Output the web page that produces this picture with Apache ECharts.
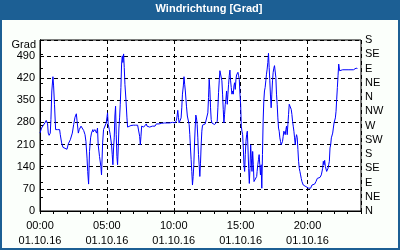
<!DOCTYPE html>
<html><head><meta charset="utf-8">
<script src="https://cdn.jsdelivr.net/npm/echarts@6/dist/echarts.min.js"></script>
<style>html,body{margin:0;padding:0;background:#fff}#c{width:400px;height:250px}</style>
</head><body><div id="c"></div>
<script>
const titleText = 'Windrichtung [Grad]';
const yName = 'Grad';
const dateLabel = '01.10.16';
const dirLabels = ['N','NE','E','SE','S','SW','W','NW','N','NE','E','SE','S'];
// time in minutes since 00:00
const times = [0,7,13,22,28,34,37,41,46,49,53,58,61,65,70,79,88,91,97,103,109,121,127,136,145,151,157,163,166,172,176,184,190,196,202,206,211,214,218,222,227,231,237,
239,246,254,258,261,267,273,276,281,285,291,297,300,303,306,311,315,321,324,327,330,333,336,339,342,345,348,351,354,357,360,363,366,369,372,375,378,381,386,390,393,399,408,419,429,438,444,447,450,453,456,461,465,471,477,
480,486,492,498,504,510,516,522,528,534,540,546,552,558,564,570,576,582,588,594,600,606,612,615,618,621,624,628,633,636,639,643,646,649,652,657,661,666,669,672,675,678,681,684,687,690,693,696,699,702,705,708,711,714,
717,720,723,726,729,735,741,747,753,756,759,762,765,768,771,777,783,789,792,795,798,801,804,807,810,813,816,819,822,825,828,831,834,837,840,843,846,849,852,855,858,861,864,867,870,873,876,879,882,885,888,891,894,897,900,903,906,909,912,915,918,921,924,927,930,933,936,939,942,945,948,951,954,957,960,963,966,
972,974,977,980,983,986,989,992,995,998,1001,1004,1007,1010,1013,1016,1019,1022,1025,1028,1031,1034,1037,1040,1043,1046,1049,1052,1055,1058,1061,1064,1067,1070,1073,1076,1079,1082,1085,1088,1091,1094,1097,1100,1103,1106,1109,1112,1115,1118,1121,1124,1127,1130,1133,1136,1139,1142,1145,1148,1151,1154,1157,1160,1163,1166,1169,1172,1175,1181,1187,1193,1199,1205,
1208,1214,1220,1226,1232,1238,1244,1250,1256,1262,1268,1271,1274,1277,1280,1286,1289,1292,1295,1298,1301,1304,1307,1310,1313,1316,1319,1322,1325,1328,1331,1334,1337,1340,1342,1344,1346,1349,1358,1382,1406,1412,1418,1424];
const values = [246,262,268,278,286,275,246,239,246,289,379,424,395,337,257,257,257,241,215,201,195,195,212,225,246,273,296,307,286,246,257,268,271,254,241,220,167,125,85,188,231,246,257,
250,257,246,262,209,172,141,114,215,257,262,278,294,310,273,257,241,209,178,146,199,231,300,331,241,172,146,199,262,294,337,390,464,490,469,496,453,400,347,294,265,268,270,271,271,271,268,236,209,236,268,271,265,271,275,
268,271,265,260,268,273,268,275,271,275,273,277,275,278,277,278,283,278,278,280,277,278,286,300,318,296,278,278,294,326,369,395,424,400,379,331,300,303,273,241,199,162,125,82,109,146,209,262,303,294,273,231,178,146,
109,151,209,252,271,275,275,278,310,358,416,384,326,289,278,275,273,271,271,283,326,374,411,443,446,448,411,369,321,278,305,337,353,379,337,369,400,427,445,411,390,369,379,369,395,405,384,416,430,432,438,427,416,369,337,268,252,241,199,146,125,178,220,241,252,199,135,87,135,209,167,125,188,146,93,98,93,
109,125,146,162,178,146,114,146,72,178,284,347,379,390,411,432,448,469,498,453,411,363,326,369,411,438,451,459,462,422,369,337,294,262,252,231,220,209,204,220,236,252,246,241,257,268,241,273,305,337,339,331,321,305,283,268,252,231,209,231,241,231,194,157,135,125,114,103,93,82,82,77,75,72,
66,72,82,87,85,93,103,98,106,114,135,157,146,160,141,125,130,135,146,157,199,209,231,236,246,262,278,284,294,315,353,390,427,464,467,443,449,445,446,446,446,448,451,450];

const FONT = 'Liberation Sans';
const BLUE = '#1c5f94';
const data = times.map((t, i) => [t, values[i]]);
const pad = n => (n < 10 ? '0' : '') + n;

const chart = echarts.init(document.getElementById('c'), null, {renderer: 'canvas'});
chart.setOption({
  animation: false,
  backgroundColor: '#fbfffb',
  title: {
    text: titleText, left: 209, top: 3, padding: 0, textAlign: 'center',
    textStyle: {color: '#fff', fontFamily: FONT, fontSize: 11, fontWeight: 'bold'}
  },
  graphic: [
    {type: 'rect', z: -10, shape: {x: 0, y: 0, width: 400, height: 20}, style: {fill: BLUE}},
    {type: 'rect', z: 100, shape: {x: 1, y: 1, width: 398, height: 248}, style: {fill: 'none', stroke: BLUE, lineWidth: 2}}
  ],
  grid: {left: 40, right: 39, top: 40, bottom: 39, show: true, backgroundColor: '#fff', borderColor: '#000', borderWidth: 1},
  xAxis: [{
    type: 'value', min: 0, max: 1440, interval: 300,
    axisLine: {lineStyle: {color: '#000'}},
    axisTick: {show: false},
    axisLabel: {
      color: '#000', fontFamily: FONT, fontSize: 11, lineHeight: 15, margin: 7,
      showMaxLabel: false,
      formatter: v => pad(v / 60) + ':00\n' + dateLabel
    },
    splitLine: {show: true, lineStyle: {color: '#000', type: [4, 3], width: 1}}
  }, {
    type: 'value', min: 0, max: 1440, interval: 60, position: 'bottom',
    axisLine: {show: false},
    axisTick: {show: true, length: 3, inside: false, lineStyle: {color: '#000'}},
    axisLabel: {show: false},
    splitLine: {show: false}
  }],
  yAxis: [{
    type: 'value', min: 0, max: 540, interval: 70,
    name: yName, nameLocation: 'end', nameGap: -6,
    nameTextStyle: {color: '#000', fontFamily: FONT, fontSize: 11, align: 'right', verticalAlign: 'middle', padding: [0, 4, 0, 0]},
    axisLine: {show: true, lineStyle: {color: '#000'}},
    axisTick: {show: false},
    axisLabel: {color: '#000', fontFamily: FONT, fontSize: 11, margin: 5, showMaxLabel: false},
    splitLine: {show: true, lineStyle: {color: '#000', type: [4, 3], width: 1}}
  }, {
    type: 'value', min: 0, max: 540, interval: 45, position: 'right',
    axisLine: {show: true, lineStyle: {color: '#000'}},
    axisTick: {show: true, length: 3, lineStyle: {color: '#000'}},
    axisLabel: {color: '#000', fontFamily: FONT, fontSize: 11, margin: 4, formatter: (v) => dirLabels[Math.round(v / 45)]},
    splitLine: {show: false}
  }],
  series: [{
    type: 'line', data: data, xAxisIndex: 0, yAxisIndex: 0,
    showSymbol: false, symbol: 'none',
    lineStyle: {color: '#0000ff', width: 1}
  }]
});
</script></body></html>
